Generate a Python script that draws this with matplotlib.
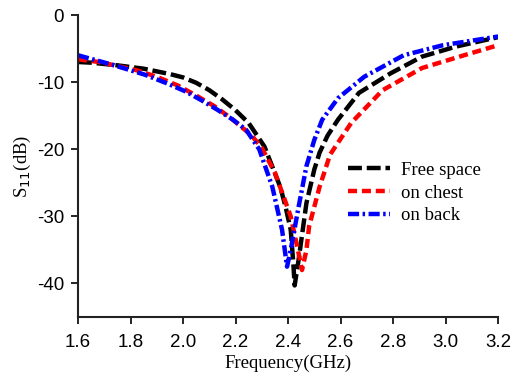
import numpy as np
import matplotlib
matplotlib.use('Agg')
import matplotlib.pyplot as plt

# Return loss S11 (dB) of the antenna in three placements
freq_free = [1.60, 1.65, 1.75, 1.85, 1.95, 2.00, 2.05, 2.10, 2.15, 2.20, 2.25, 2.31, 2.37,
             2.39, 2.41, 2.42, 2.425, 2.44, 2.47, 2.50, 2.52, 2.55, 2.59, 2.67, 2.79, 2.91,
             3.04, 3.20]
s11_free = [-7.0, -7.1, -7.5, -8.0, -8.8, -9.3, -10.1, -11.2, -12.6, -14.2, -16.1, -19.6, -25.6,
            -28.5, -32.0, -37.0, -40.3, -36.5, -28.0, -23.0, -20.5, -18.0, -15.6, -11.6, -8.7,
            -6.2, -4.7, -3.3]

freq_chest = [1.60, 1.68, 1.82, 1.90, 1.98, 2.05, 2.12, 2.18, 2.26, 2.30, 2.35, 2.41, 2.44,
              2.453, 2.47, 2.48, 2.52, 2.56, 2.64, 2.76, 2.91, 3.07, 3.20]
s11_chest = [-6.6, -7.0, -8.2, -9.2, -10.5, -12.0, -13.6, -15.3, -17.9, -19.8, -23.5, -30.0,
             -35.5, -38.0, -35.0, -31.5, -25.6, -20.8, -16.1, -11.2, -7.9, -6.0, -4.5]

freq_back = [1.60, 1.73, 1.855, 1.94, 2.01, 2.07, 2.13, 2.19, 2.24, 2.29, 2.34, 2.377, 2.396,
             2.41, 2.44, 2.47, 2.50, 2.53, 2.59, 2.69, 2.84, 2.99, 3.20]
s11_back = [-6.0, -7.4, -8.9, -10.2, -11.4, -12.7, -14.1, -15.6, -17.1, -20.0, -25.6, -32.0,
            -37.5, -35.0, -28.6, -22.5, -18.6, -15.6, -12.4, -9.2, -6.0, -4.5, -3.2]

labels = ['Free space', 'on chest', 'on back']

plt.rcParams['lines.scale_dashes'] = False
plt.rcParams['axes.unicode_minus'] = False

fig = plt.figure(figsize=(5.2, 3.79), dpi=100)
ax = fig.add_axes([0.15, 0.1636, 0.808, 0.7968])

ax.plot(freq_free, s11_free, color='black', linewidth=3.2, dashes=(10, 3.5), label=labels[0])
ax.plot(freq_chest, s11_chest, color='red', linewidth=3.2, dashes=(6.5, 3.5), label=labels[1])
ax.plot(freq_back, s11_back, color='blue', linewidth=3.2, dashes=(8, 2.5, 1.8, 2.5), label=labels[2])

ax.set_xlim(1.6, 3.2)
ax.set_ylim(-45, 0)
ax.set_xticks(np.arange(1.6, 3.21, 0.2))
ax.set_yticks([0, -10, -20, -30, -40])
ax.xaxis.set_major_formatter(matplotlib.ticker.FormatStrFormatter('%.1f'))

for side in ['top', 'right']:
    ax.spines[side].set_visible(False)
for side in ['left', 'bottom']:
    ax.spines[side].set_linewidth(1.5)
    ax.spines[side].set_color('#222222')

ax.tick_params(direction='out', length=5, width=1.2, labelsize=13.5)
ax.tick_params(axis='x', pad=7)
ax.tick_params(axis='y', pad=5)
for lab in ax.get_xticklabels() + ax.get_yticklabels():
    lab.set_fontfamily('Liberation Sans')

ax.set_xlabel('Frequency(GHz)', fontsize=13.5, fontfamily='Liberation Serif', labelpad=3)
ax.set_ylabel(r'S$_{11}$(dB)', fontsize=13.5, fontfamily='Liberation Serif', labelpad=3)

leg = ax.legend(loc='upper left', bbox_to_anchor=(0.62, 0.545), frameon=False,
                prop={'family': 'Liberation Serif', 'size': 13.5},
                handlelength=2.25, handletextpad=0.6, labelspacing=0.3, borderpad=0)

fig.savefig('out.png', dpi=100)
